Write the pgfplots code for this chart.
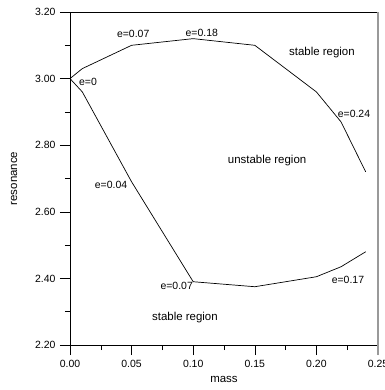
\documentclass[border=0pt]{standalone}
\usepackage{fontspec}
\setmainfont{Liberation Sans}
\usepackage{pgfplots}
\pgfplotsset{compat=1.18}
\begin{document}
\begin{tikzpicture}
\useasboundingbox (-70bp,-45bp) rectangle (315bp,345bp);
\begin{axis}[
  scale only axis, width=308bp, height=333bp,
  xmin=0, xmax=0.25, ymin=2.2, ymax=3.2,
  xtick={0,0.05,0.1,0.15,0.2,0.25}, minor x tick num=1,
  ytick={2.2,2.4,2.6,2.8,3.0,3.2}, minor y tick num=1,
  tick align=outside, tick pos=left,
  major tick length=10bp, minor tick length=5bp,
  tick style={black, line width=0.6pt},
  axis line style={line width=0.6pt},
  /pgf/number format/assume math mode=true,
  /pgf/number format/fixed, /pgf/number format/fixed zerofill, /pgf/number format/precision=2,
  xticklabel style={yshift=-2bp},
  yticklabel style={xshift=-1bp},
  ticklabel style={font=\fontsize{10.5}{12}\selectfont},
  label style={font=\fontsize{11.5}{13}\selectfont},
  xlabel=mass, ylabel=resonance,
  xlabel style={at={(axis description cs:0.5,-0.105)}, anchor=center},
  ylabel style={at={(axis description cs:-0.1818,0.5)}, anchor=center},
  clip=false,
]
\addplot[black, line width=0.7pt, mark=none] coordinates {
 (0,3.00) (0.01,3.03) (0.05,3.10) (0.10,3.12) (0.15,3.10) (0.20,2.96) (0.22,2.87) (0.24,2.72)};
\addplot[black, line width=0.7pt, mark=none] coordinates {
 (0,3.00) (0.01,2.96) (0.05,2.69) (0.10,2.39) (0.15,2.375) (0.20,2.405) (0.22,2.435) (0.24,2.48)};
\draw[gray!80, line width=1.3pt] ([yshift=-10bp]rel axis cs:1,0) -- (rel axis cs:1,1);
\begin{scope}[every node/.style={font=\fontsize{10.5}{12}\selectfont, inner sep=0pt}]
\node at (axis cs:0.0146,2.991) {e=0};
\node at (axis cs:0.0513,3.134) {e=0.07};
\node at (axis cs:0.107,3.137) {e=0.18};
\node at (axis cs:0.2305,2.895) {e=0.24};
\node at (axis cs:0.0333,2.681) {e=0.04};
\node at (axis cs:0.0866,2.376) {e=0.07};
\node at (axis cs:0.2256,2.397) {e=0.17};
\end{scope}
\begin{scope}[every node/.style={font=\fontsize{11.5}{13}\selectfont, inner sep=0pt}]
\node at (axis cs:0.2045,3.078) {stable region};
\node at (axis cs:0.160,2.755) {unstable region};
\node at (axis cs:0.0933,2.281) {stable region};
\end{scope}
\end{axis}
\end{tikzpicture}
\end{document}
